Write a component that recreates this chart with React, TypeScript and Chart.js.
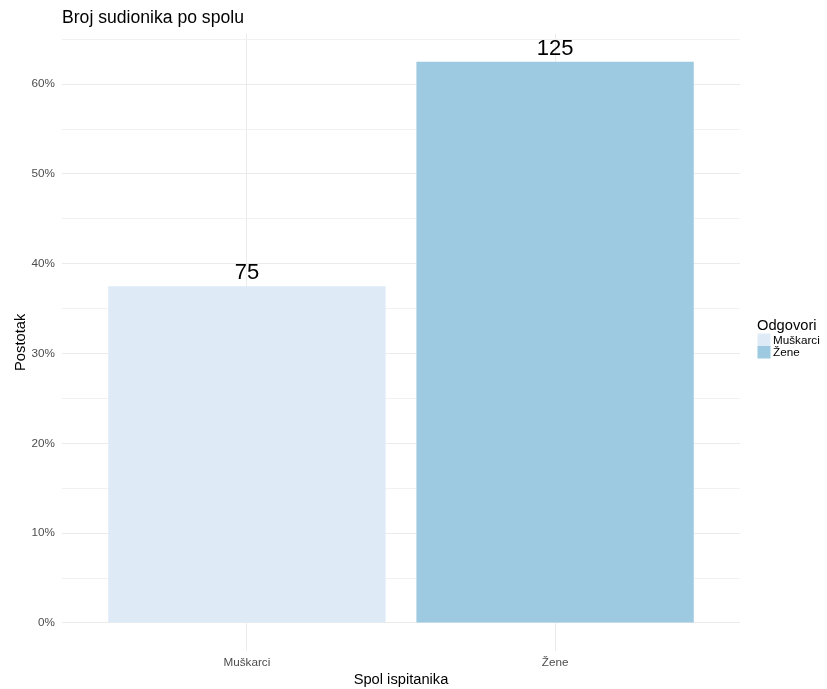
import React, { useEffect, useRef } from "react";
import { Chart, registerables } from "chart.js";

Chart.register(...registerables);

const categories = ["Muškarci", "Žene"];
const percentValues = [37.5, 62.5];
const countLabels = [75, 125];
const barColors = ["#deebf7", "#9ecae1"];
const yTickValues = [0, 5, 10, 15, 20, 25, 30, 35, 40, 45, 50, 55, 60, 65];

const chartTitle = "Broj sudionika po spolu";
const xTitle = "Spol ispitanika";
const yTitle = "Postotak";
const legendTitle = "Odgovori";

const FONT = "'Liberation Sans', Arial, Helvetica, sans-serif";

const overlayPlugin = {
  id: "ggOverlay",
  afterDatasetsDraw(chart: any) {
    const ctx = chart.ctx;
    const meta = chart.getDatasetMeta(0);
    ctx.save();
    ctx.fillStyle = "#000000";
    ctx.font = `22px ${FONT}`;
    ctx.textAlign = "center";
    ctx.textBaseline = "alphabetic";
    meta.data.forEach((el: any, i: number) => {
      ctx.fillText(String(countLabels[i]), el.x, el.y - 7);
    });
    ctx.restore();
  },
  afterDraw(chart: any) {
    const ctx = chart.ctx;
    const area = chart.chartArea;
    ctx.save();
    ctx.fillStyle = "#000000";
    // title
    ctx.font = `17.6px ${FONT}`;
    ctx.textAlign = "left";
    ctx.textBaseline = "alphabetic";
    ctx.fillText(chartTitle, area.left, 23.3);
    // x title
    ctx.font = `14.7px ${FONT}`;
    ctx.textAlign = "center";
    ctx.fillText(xTitle, (area.left + area.right) / 2, 684);
    // y title
    ctx.save();
    ctx.translate(24.5, (area.top + area.bottom) / 2);
    ctx.rotate(-Math.PI / 2);
    ctx.textAlign = "center";
    ctx.fillText(yTitle, 0, 0);
    ctx.restore();
    // legend
    const lx = 757.5;
    ctx.textAlign = "left";
    ctx.font = `14.7px ${FONT}`;
    ctx.fillText(legendTitle, lx - 0.5, 330);
    const keyW = 13;
    const keyH = 12.5;
    let ky = 333.5;
    ctx.font = `11.7px ${FONT}`;
    categories.forEach((c, i) => {
      ctx.fillStyle = barColors[i];
      ctx.fillRect(lx, ky, keyW, keyH);
      ctx.fillStyle = "#000000";
      ctx.fillText(c, lx + keyW + 2.5, ky + keyH / 2 + 4.2);
      ky += keyH;
    });
    ctx.restore();
  },
};

export default function App() {
  const canvasRef = useRef<HTMLCanvasElement | null>(null);

  useEffect(() => {
    document.body.style.margin = "0";
    const canvas = canvasRef.current;
    if (!canvas) return;
    Chart.defaults.font.family = FONT;
    const chart = new Chart(canvas, {
      type: "bar",
      data: {
        datasets: [
          {
            label: "Postotak",
            data: categories.map((_, i) => ({ x: i + 1, y: percentValues[i] })),
            backgroundColor: barColors,
            borderWidth: 0,
            categoryPercentage: 0.9,
            barPercentage: 1,
          } as any,
        ],
      },
      options: {
        responsive: false,
        animation: false,
        devicePixelRatio: 1,
        layout: { padding: { top: 33.7, right: 87, left: 0, bottom: 0 } },
        plugins: {
          legend: { display: false },
          title: { display: false },
          tooltip: { enabled: false },
        },
        scales: {
          x: {
            type: "linear",
            offset: false,
            min: 0.4,
            max: 2.6,
            afterBuildTicks: (scale: any) => {
              scale.ticks = categories.map((_, i) => ({ value: i + 1 }));
            },
            afterFit: (scale: any) => {
              scale.height = 38;
            },
            ticks: {
              autoSkip: false,
              maxRotation: 0,
              padding: 5,
              color: "#4d4d4d",
              font: { size: 11.7, family: FONT },
              callback: (v: any) => categories[Math.round(Number(v)) - 1] ?? "",
            },
            grid: {
              offset: false,
              color: "#ebebeb",
              lineWidth: 1,
              drawTicks: false,
            },
            border: { display: false },
          },
          y: {
            type: "linear",
            min: -3.125,
            max: 65.625,
            afterBuildTicks: (scale: any) => {
              scale.ticks = yTickValues.map((v) => ({ value: v }));
            },
            afterFit: (scale: any) => {
              scale.width = 62;
            },
            ticks: {
              autoSkip: false,
              padding: 7,
              color: "#4d4d4d",
              font: { size: 11.7, family: FONT },
              callback: (v: any) => (Number(v) % 10 === 0 ? `${v}%` : ""),
            },
            grid: {
              color: (c: any) => (c.tick && c.tick.value % 10 === 0 ? "#ebebeb" : "#f1f1f1"),
              lineWidth: 1,
              drawTicks: false,
            },
            border: { display: false },
          },
        },
      },
      plugins: [overlayPlugin],
    } as any);
    return () => chart.destroy();
  }, []);

  return (
    <div style={{ width: 827, height: 689, overflow: "hidden", background: "#ffffff" }}>
      <canvas ref={canvasRef} width={827} height={689} style={{ display: "block" }} />
    </div>
  );
}
